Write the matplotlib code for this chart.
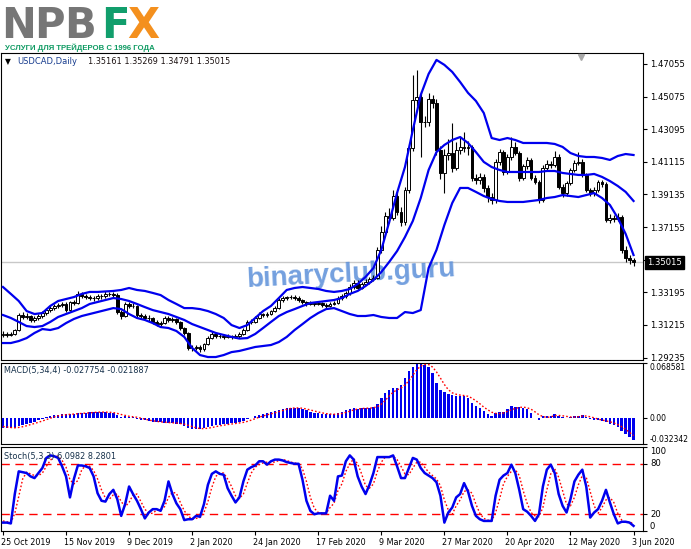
import matplotlib.pyplot as plt
import matplotlib.transforms as mtransforms
import numpy as np

plt.rcParams['font.family'] = ['DejaVu Sans']

# ---- data (USDCAD daily) ----
date_labels = ['25 Oct 2019', '15 Nov 2019', '9 Dec 2019', '2 Jan 2020', '24 Jan 2020',
               '17 Feb 2020', '9 Mar 2020', '27 Mar 2020', '20 Apr 2020', '12 May 2020',
               '3 Jun 2020']
date_bars = [0, 16, 32, 48, 64, 80, 96, 112, 128, 144, 160]

opens = [
    1.3060, 1.3067, 1.3061, 1.3067, 1.3091, 1.3182, 1.3170, 1.3176, 1.3152, 1.3164,
    1.3176, 1.3194, 1.3212, 1.3224, 1.3237, 1.3243, 1.3249, 1.3212, 1.3261, 1.3255,
    1.3310, 1.3297, 1.3291, 1.3285, 1.3285, 1.3297, 1.3297, 1.3310, 1.3310, 1.3303,
    1.3200, 1.3176, 1.3249, 1.3237, 1.3237, 1.3182, 1.3176, 1.3164, 1.3164, 1.3140,
    1.3127, 1.3133, 1.3164, 1.3152, 1.3158, 1.3140, 1.3103, 1.3073, 1.2982, 1.2982,
    1.2988, 1.2976, 1.3006, 1.3042, 1.3067, 1.3055, 1.3055, 1.3049, 1.3055, 1.3049,
    1.3055, 1.3067, 1.3091, 1.3140, 1.3140, 1.3164, 1.3188, 1.3182, 1.3188, 1.3206,
    1.3224, 1.3273, 1.3285, 1.3291, 1.3291, 1.3285, 1.3273, 1.3261, 1.3249, 1.3255,
    1.3249, 1.3255, 1.3243, 1.3237, 1.3249, 1.3255, 1.3285, 1.3297, 1.3316, 1.3352,
    1.3376, 1.3346, 1.3370, 1.3382, 1.3401, 1.3407, 1.3577, 1.3686, 1.3783, 1.3771,
    1.3904, 1.3807, 1.3747, 1.3941, 1.4196, 1.4487, 1.4505, 1.4353, 1.4353, 1.4493,
    1.4469, 1.4184, 1.4044, 1.4153, 1.4165, 1.4074, 1.4184, 1.4202, 1.4196, 1.4202,
    1.4014, 1.4002, 1.4020, 1.3953, 1.3898, 1.3880, 1.4111, 1.4171, 1.4050, 1.4141,
    1.4202, 1.4165, 1.4014, 1.4087, 1.4123, 1.4014, 1.3989, 1.3880, 1.4074, 1.4099,
    1.4093, 1.4141, 1.3959, 1.3922, 1.3983, 1.4062, 1.4105, 1.4111, 1.4032, 1.3941,
    1.3922, 1.3941, 1.3989, 1.3977, 1.3759, 1.3771, 1.3765, 1.3777, 1.3577, 1.3528,
    1.35161]

highs = [
    1.3082, 1.3080, 1.3078, 1.3100, 1.3195, 1.3200, 1.3192, 1.3185, 1.3178, 1.3188,
    1.3205, 1.3222, 1.3235, 1.3250, 1.3255, 1.3262, 1.3258, 1.3270, 1.3275, 1.3325,
    1.3322, 1.3312, 1.3305, 1.3300, 1.3310, 1.3312, 1.3325, 1.3322, 1.3320, 1.3315,
    1.3212, 1.3262, 1.3260, 1.3252, 1.3245, 1.3195, 1.3190, 1.3180, 1.3172, 1.3150,
    1.3145, 1.3175, 1.3178, 1.3170, 1.3165, 1.3148, 1.3112, 1.3080, 1.2998, 1.3000,
    1.3000, 1.3015, 1.3052, 1.3085, 1.3075, 1.3068, 1.3065, 1.3066, 1.3062, 1.3066,
    1.3078, 1.3102, 1.3152, 1.3155, 1.3175, 1.3198, 1.3196, 1.3198, 1.3215, 1.3235,
    1.3285, 1.3296, 1.3300, 1.3305, 1.3302, 1.3295, 1.3282, 1.3270, 1.3266, 1.3262,
    1.3266, 1.3262, 1.3252, 1.3260, 1.3266, 1.3298, 1.3310, 1.3330, 1.3368, 1.3395,
    1.3392, 1.3382, 1.3398, 1.3415, 1.3425, 1.3595, 1.3720, 1.3810, 1.3830, 1.3940,
    1.3930, 1.3840, 1.3960, 1.4220, 1.4639, 1.4667, 1.4540, 1.4390, 1.4530, 1.4520,
    1.4495, 1.4210, 1.4190, 1.4250, 1.4347, 1.4230, 1.4260, 1.4290, 1.4240, 1.4215,
    1.4040, 1.4045, 1.4035, 1.3970, 1.3920, 1.4130, 1.4190, 1.4185, 1.4160, 1.4265,
    1.4230, 1.4180, 1.4100, 1.4140, 1.4135, 1.4030, 1.4000, 1.4090, 1.4120, 1.4115,
    1.4180, 1.4160, 1.3975, 1.3995, 1.4075, 1.4125, 1.4170, 1.4130, 1.4045, 1.3955,
    1.3960, 1.4000, 1.4000, 1.3990, 1.3795, 1.3790, 1.3800, 1.3790, 1.3600, 1.3545,
    1.35269]

lows = [
    1.3048, 1.3050, 1.3052, 1.3060, 1.3085, 1.3158, 1.3155, 1.3140, 1.3140, 1.3150,
    1.3165, 1.3185, 1.3200, 1.3210, 1.3225, 1.3228, 1.3200, 1.3205, 1.3240, 1.3250,
    1.3285, 1.3280, 1.3272, 1.3270, 1.3275, 1.3282, 1.3288, 1.3295, 1.3290, 1.3190,
    1.3160, 1.3170, 1.3225, 1.3222, 1.3172, 1.3165, 1.3150, 1.3148, 1.3130, 1.3115,
    1.3118, 1.3125, 1.3140, 1.3142, 1.3128, 1.3092, 1.3060, 1.2970, 1.2965, 1.2968,
    1.2955, 1.2965, 1.2998, 1.3035, 1.3045, 1.3042, 1.3038, 1.3040, 1.3038, 1.3040,
    1.3045, 1.3058, 1.3085, 1.3125, 1.3132, 1.3155, 1.3170, 1.3172, 1.3180, 1.3198,
    1.3218, 1.3262, 1.3272, 1.3278, 1.3275, 1.3262, 1.3250, 1.3238, 1.3240, 1.3238,
    1.3240, 1.3232, 1.3226, 1.3228, 1.3240, 1.3248, 1.3275, 1.3288, 1.3305, 1.3340,
    1.3335, 1.3338, 1.3362, 1.3372, 1.3390, 1.3400, 1.3560, 1.3670, 1.3740, 1.3760,
    1.3790, 1.3720, 1.3730, 1.3925, 1.4180, 1.4450, 1.4141, 1.4320, 1.4330, 1.4440,
    1.4150, 1.4010, 1.3922, 1.4120, 1.4050, 1.4060, 1.4160, 1.4170, 1.4150, 1.3995,
    1.3975, 1.3980, 1.3930, 1.3870, 1.3855, 1.3860, 1.4090, 1.4030, 1.4035, 1.4125,
    1.4150, 1.3995, 1.4000, 1.4070, 1.4000, 1.3975, 1.3860, 1.3870, 1.4060, 1.4075,
    1.4080, 1.3945, 1.3900, 1.3905, 1.3970, 1.4050, 1.4090, 1.4020, 1.3930, 1.3905,
    1.3905, 1.3930, 1.3960, 1.3745, 1.3740, 1.3745, 1.3750, 1.3560, 1.3505, 1.3490,
    1.34791]

closes = [
    1.3067, 1.3061, 1.3067, 1.3091, 1.3182, 1.3170, 1.3176, 1.3152, 1.3164, 1.3176,
    1.3194, 1.3212, 1.3224, 1.3237, 1.3243, 1.3249, 1.3212, 1.3261, 1.3255, 1.3310,
    1.3297, 1.3291, 1.3285, 1.3285, 1.3297, 1.3297, 1.3310, 1.3310, 1.3303, 1.3200,
    1.3176, 1.3249, 1.3237, 1.3237, 1.3182, 1.3176, 1.3164, 1.3164, 1.3140, 1.3127,
    1.3133, 1.3164, 1.3152, 1.3158, 1.3140, 1.3103, 1.3073, 1.2982, 1.2982, 1.2988,
    1.2976, 1.3006, 1.3042, 1.3067, 1.3055, 1.3055, 1.3049, 1.3055, 1.3049, 1.3055,
    1.3067, 1.3091, 1.3140, 1.3140, 1.3164, 1.3188, 1.3182, 1.3188, 1.3206, 1.3224,
    1.3273, 1.3285, 1.3291, 1.3291, 1.3285, 1.3273, 1.3261, 1.3249, 1.3255, 1.3249,
    1.3255, 1.3243, 1.3237, 1.3249, 1.3255, 1.3285, 1.3297, 1.3316, 1.3352, 1.3376,
    1.3346, 1.3370, 1.3382, 1.3401, 1.3407, 1.3577, 1.3686, 1.3783, 1.3771, 1.3904,
    1.3807, 1.3747, 1.3941, 1.4196, 1.4487, 1.4505, 1.4353, 1.4353, 1.4493, 1.4469,
    1.4184, 1.4044, 1.4153, 1.4165, 1.4074, 1.4184, 1.4202, 1.4196, 1.4202, 1.4014,
    1.4002, 1.4020, 1.3953, 1.3898, 1.3880, 1.4111, 1.4171, 1.4050, 1.4141, 1.4202,
    1.4165, 1.4014, 1.4087, 1.4123, 1.4014, 1.3989, 1.3880, 1.4074, 1.4099, 1.4093,
    1.4141, 1.3959, 1.3922, 1.3983, 1.4062, 1.4105, 1.4111, 1.4032, 1.3941, 1.3922,
    1.3941, 1.3989, 1.3977, 1.3759, 1.3771, 1.3765, 1.3777, 1.3577, 1.3528, 1.3516,
    1.35015]

# Bollinger bands, read every 2nd bar
band_bars = list(range(0, 161, 2))
bb_upper = [
    1.3352, 1.3310, 1.3267, 1.3206, 1.3188, 1.3194, 1.3237, 1.3267, 1.3279, 1.3291,
    1.3310, 1.3322, 1.3322, 1.3325, 1.3328, 1.3334, 1.3346, 1.3334, 1.3328, 1.3316,
    1.3303, 1.3273, 1.3249, 1.3224, 1.3224, 1.3218, 1.3206, 1.3188, 1.3164, 1.3121,
    1.3103, 1.3121, 1.3164, 1.3206, 1.3237, 1.3285, 1.3334, 1.3346, 1.3352, 1.3346,
    1.3340, 1.3328, 1.3322, 1.3328, 1.3340, 1.3370, 1.3413, 1.3467, 1.3577, 1.3746,
    1.3923, 1.4080, 1.4305, 1.4517, 1.4645, 1.4730, 1.4700, 1.4657, 1.4596, 1.4530,
    1.4481, 1.4408, 1.4256, 1.4244, 1.4256, 1.4244, 1.4226, 1.4226, 1.4226, 1.4226,
    1.4220, 1.4202, 1.4165, 1.4147, 1.4141, 1.4141, 1.4135, 1.4123, 1.4147, 1.4159,
    1.4153]
bb_middle = [
    1.3182, 1.3164, 1.3140, 1.3115, 1.3109, 1.3115, 1.3140, 1.3170, 1.3188, 1.3206,
    1.3224, 1.3249, 1.3261, 1.3273, 1.3285, 1.3279, 1.3267, 1.3249, 1.3230, 1.3212,
    1.3200, 1.3188, 1.3170, 1.3152, 1.3127, 1.3109, 1.3091, 1.3073, 1.3061, 1.3049,
    1.3039, 1.3042, 1.3067, 1.3103, 1.3140, 1.3176, 1.3200, 1.3218, 1.3237, 1.3255,
    1.3261, 1.3267, 1.3273, 1.3285, 1.3310, 1.3328, 1.3358, 1.3394, 1.3443, 1.3504,
    1.3570, 1.3655, 1.3753, 1.3892, 1.4062, 1.4171, 1.4214, 1.4244, 1.4262, 1.4226,
    1.4171, 1.4111, 1.4080, 1.4062, 1.4050, 1.4050, 1.4050, 1.4050, 1.4050, 1.4056,
    1.4056, 1.4044, 1.4038, 1.4032, 1.4032, 1.4038, 1.4020, 1.3995, 1.3965, 1.3929,
    1.3874]
bb_lower = [
    1.3012, 1.3012, 1.3024, 1.3042, 1.3073, 1.3097, 1.3091, 1.3103, 1.3133, 1.3158,
    1.3176, 1.3188, 1.3200, 1.3212, 1.3224, 1.3218, 1.3188, 1.3164, 1.3152, 1.3133,
    1.3109, 1.3103, 1.3085, 1.3049, 1.2982, 1.2939, 1.2927, 1.2927, 1.2939, 1.2957,
    1.2964, 1.2976, 1.2988, 1.2994, 1.3000, 1.3018, 1.3049, 1.3091, 1.3127, 1.3164,
    1.3194, 1.3218, 1.3224, 1.3206, 1.3188, 1.3176, 1.3176, 1.3182, 1.3170, 1.3164,
    1.3164, 1.3200, 1.3194, 1.3212, 1.3467, 1.3577, 1.3728, 1.3862, 1.3953, 1.3953,
    1.3929, 1.3904, 1.3886, 1.3874, 1.3868, 1.3868, 1.3868, 1.3874, 1.3880, 1.3892,
    1.3898, 1.3910, 1.3904, 1.3898, 1.3910, 1.3922, 1.3892, 1.3850, 1.3771, 1.3674,
    1.3546]

macd_hist = [
    -0.0120, -0.0125, -0.0126, -0.0118, -0.0100, -0.0090, -0.0075, -0.0060, -0.0045, -0.0030,
    -0.0012, 0.0010, 0.0025, 0.0033, 0.0040, 0.0045, 0.0048, 0.0052, 0.0055, 0.0062,
    0.0066, 0.0068, 0.0072, 0.0077, 0.0076, 0.0074, 0.0070, 0.0066, 0.0060, 0.0035,
    0.0015, 0.0020, 0.0018, 0.0010, -0.0010, -0.0022, -0.0030, -0.0038, -0.0045, -0.0052,
    -0.0055, -0.0058, -0.0060, -0.0062, -0.0068, -0.0080, -0.0095, -0.0120, -0.0133, -0.0136,
    -0.0135, -0.0125, -0.0112, -0.0100, -0.0092, -0.0085, -0.0078, -0.0070, -0.0065, -0.0058,
    -0.0052, -0.0040, -0.0018, 0.0005, 0.0020, 0.0035, 0.0045, 0.0058, 0.0070, 0.0085,
    0.0105, 0.0118, 0.0126, 0.0130, 0.0128, 0.0120, 0.0110, 0.0095, 0.0080, 0.0068,
    0.0058, 0.0050, 0.0045, 0.0045, 0.0048, 0.0060, 0.0075, 0.0095, 0.0113, 0.0120,
    0.0118, 0.0122, 0.0126, 0.0130, 0.0135, 0.0180, 0.0250, 0.0316, 0.0350, 0.0370,
    0.0370, 0.0406, 0.0500, 0.0580, 0.0640, 0.0686, 0.0680, 0.0660, 0.0640, 0.0560,
    0.0440, 0.0350, 0.0320, 0.0300, 0.0285, 0.0280, 0.0280, 0.0275, 0.0250, 0.0185,
    0.0150, 0.0125, 0.0085, 0.0050, 0.0030, 0.0065, 0.0078, 0.0080, 0.0110, 0.0144,
    0.0140, 0.0135, 0.0125, 0.0110, 0.0068, 0.0005, -0.0020, 0.0020, 0.0028, 0.0030,
    0.0045, 0.0025, 0.0010, 0.0002, 0.0015, 0.0022, 0.0030, 0.0036, 0.0010, -0.0012,
    -0.0022, -0.0028, -0.0036, -0.0052, -0.0068, -0.0090, -0.0113, -0.0160, -0.0200, -0.0240,
    -0.027754]

macd_signal = [
    -0.0105, -0.0112, -0.0118, -0.0122, -0.0117, -0.0108, -0.0096, -0.0081, -0.0068, -0.0053,
    -0.0037, -0.0019, -0.0002, 0.0014, 0.0027, 0.0036, 0.0042, 0.0046, 0.0050, 0.0054,
    0.0059, 0.0063, 0.0067, 0.0071, 0.0073, 0.0075, 0.0074, 0.0072, 0.0068, 0.0058,
    0.0044, 0.0033, 0.0022, 0.0016, 0.0010, -0.0001, -0.0013, -0.0025, -0.0034, -0.0041,
    -0.0048, -0.0053, -0.0056, -0.0059, -0.0062, -0.0068, -0.0076, -0.0091, -0.0107, -0.0121,
    -0.0131, -0.0132, -0.0127, -0.0118, -0.0107, -0.0097, -0.0089, -0.0081, -0.0075, -0.0068,
    -0.0061, -0.0054, -0.0042, -0.0026, -0.0008, 0.0011, 0.0026, 0.0040, 0.0052, 0.0065,
    0.0080, 0.0095, 0.0109, 0.0120, 0.0126, 0.0126, 0.0122, 0.0113, 0.0101, 0.0088,
    0.0075, 0.0064, 0.0055, 0.0050, 0.0047, 0.0050, 0.0057, 0.0070, 0.0086, 0.0101,
    0.0112, 0.0118, 0.0122, 0.0124, 0.0128, 0.0143, 0.0173, 0.0220, 0.0274, 0.0322,
    0.0352, 0.0374, 0.0412, 0.0464, 0.0532, 0.0602, 0.0647, 0.0667, 0.0667, 0.0635,
    0.0575, 0.0498, 0.0418, 0.0353, 0.0314, 0.0296, 0.0286, 0.0280, 0.0271, 0.0248,
    0.0215, 0.0178, 0.0136, 0.0103, 0.0073, 0.0058, 0.0056, 0.0063, 0.0083, 0.0103,
    0.0119, 0.0132, 0.0136, 0.0128, 0.0110, 0.0077, 0.0041, 0.0018, 0.0008, 0.0015,
    0.0031, 0.0032, 0.0028, 0.0021, 0.0013, 0.0012, 0.0017, 0.0026, 0.0025, 0.0016,
    0.0003, -0.0013, -0.0025, -0.0035, -0.0046, -0.0062, -0.0081, -0.0108, -0.0141, -0.0178,
    -0.021887]

stoch_main = [
    10, 10, 9, 44, 71, 70, 69, 65, 63, 69,
    75, 87, 90, 89, 87, 77, 65, 40, 62, 78,
    78, 77, 75, 65, 45, 36, 35, 44, 49, 38,
    18, 32, 53, 44, 36, 26, 15, 22, 26, 26,
    24, 36, 59, 44, 33, 26, 13, 14, 14, 18,
    17, 32, 55, 68, 71, 68, 67, 51, 42, 34,
    40, 59, 73, 76, 78, 83, 83, 79, 83, 85,
    85, 84, 82, 81, 80, 80, 61, 36, 24, 20,
    21, 21, 21, 42, 36, 65, 66, 83, 90, 85,
    65, 53, 44, 55, 69, 88, 88, 88, 88, 90,
    77, 63, 63, 75, 87, 85, 75, 69, 66, 63,
    58, 42, 10, 22, 28, 40, 44, 57, 47, 30,
    18, 14, 12, 12, 12, 42, 61, 66, 69, 79,
    69, 49, 26, 23, 18, 12, 20, 53, 73, 79,
    69, 44, 30, 22, 38, 59, 67, 73, 53, 16,
    22, 26, 36, 49, 34, 20, 9, 11, 11, 10,
    6.0982]

stoch_signal = [
    12, 11, 10, 21, 41, 62, 70, 68, 66, 66,
    69, 77, 84, 89, 89, 84, 76, 61, 56, 60,
    73, 78, 77, 72, 62, 49, 39, 38, 43, 44,
    35, 29, 34, 43, 44, 35, 26, 21, 21, 25,
    25, 29, 40, 46, 45, 34, 24, 18, 14, 15,
    16, 22, 35, 52, 65, 69, 69, 62, 53, 42,
    39, 44, 57, 69, 76, 79, 81, 82, 82, 82,
    84, 85, 84, 82, 81, 80, 74, 59, 40, 27,
    22, 21, 21, 28, 33, 48, 56, 71, 80, 86,
    80, 68, 54, 51, 56, 71, 82, 88, 88, 89,
    85, 77, 68, 67, 75, 82, 82, 76, 70, 66,
    62, 54, 37, 25, 20, 30, 37, 47, 49, 45,
    32, 21, 15, 13, 12, 22, 38, 56, 65, 71,
    73, 66, 48, 33, 22, 18, 17, 28, 49, 68,
    74, 64, 48, 32, 30, 40, 55, 66, 64, 47,
    30, 21, 28, 37, 40, 34, 21, 13, 10, 11,
    8.2801]

price_ticks = [1.47055, 1.45075, 1.43095, 1.41115, 1.39135, 1.37155,
               1.35175, 1.33195, 1.31215, 1.29235]
last_price = 1.35015

# ---- layout (pixel based, like the terminal window) ----
W, H = 691, 549
fig = plt.figure(figsize=(W / 100, H / 100), dpi=100)


def box(x0, y0, x1, y1):
    return [x0 / W, 1 - y1 / H, (x1 - x0) / W, (y1 - y0) / H]


def fpos(x, y):
    return x / W, 1 - y / H


ax = fig.add_axes(box(1, 53, 643, 360))
ax_macd = fig.add_axes(box(1, 363, 643, 444))
ax_st = fig.add_axes(box(1, 447, 643, 531))

xmin, xmax = -0.5, 162.4
for a in (ax, ax_macd, ax_st):
    a.set_xlim(xmin, xmax)
    for s in a.spines.values():
        s.set_linewidth(0.8)
        s.set_color('black')
    a.yaxis.tick_right()
    a.tick_params(axis='y', direction='out', length=3, width=0.8,
                  labelsize=6.1, pad=2, colors='black')
ax.set_xticks([])
ax_macd.set_xticks([])

# ---- main chart: candles + bollinger ----
x = np.arange(len(closes))
o = np.array(opens)
h = np.array(highs)
l = np.array(lows)
c = np.array(closes)
up = c >= o

ax.axhline(last_price, color='#c8c8c8', lw=1.0, zorder=1)
ax.vlines(x, l, h, color='black', lw=0.8, zorder=3)
ax.bar(x[up], (c - o)[up], bottom=o[up], width=0.72, facecolor='white',
       edgecolor='black', lw=0.7, zorder=4)
ax.bar(x[~up], (o - c)[~up], bottom=c[~up], width=0.72, facecolor='black',
       edgecolor='black', lw=0.7, zorder=4)

for band in (bb_upper, bb_middle, bb_lower):
    ax.plot(band_bars, band, color='#0000ee', lw=1.6, zorder=5)

ax.set_ylim(1.2909, 1.4772)
ax.set_yticks(price_ticks)
# the 1.35175 label sits under the current-price box
ax.set_yticklabels(['' if t == 1.35175 else f'{t:.5f}' for t in price_ticks])

ax.annotate(f'{last_price:.5f}', xy=(1.0, last_price),
            xycoords=('axes fraction', 'data'), xytext=(3, 0),
            textcoords='offset points', va='center', ha='left',
            fontsize=6.1, color='white', annotation_clip=False, zorder=20,
            bbox=dict(boxstyle='square,pad=0.2', fc='black', ec='black'))

# watermark
ax.text(0.545, 0.28, 'binaryclub.guru', transform=ax.transAxes,
        ha='center', va='center', rotation=3, fontsize=20, fontweight='bold',
        family=['Liberation Sans', 'DejaVu Sans'], color='#5b8fd9', alpha=0.85,
        zorder=2)

# shift marker
ax.plot([0.903], [0.986], marker='v', color='#a8a8a8', ms=5,
        transform=ax.transAxes, clip_on=False, zorder=6)

# ---- MACD ----
ax_macd.bar(x, macd_hist, width=0.62, color='#0000ee', zorder=2)
ax_macd.plot(x, macd_signal, color='red', lw=1.0, ls=(0, (1.2, 1.5)), zorder=3)
ax_macd.set_ylim(-0.032342, 0.068581)
ax_macd.set_yticks([0.068581, 0.0, -0.032342])
ax_macd.set_yticklabels(['0.068581', '0.00', '-0.032342'])
for lbl, va in zip(ax_macd.get_yticklabels(), ['top', 'center', 'bottom']):
    lbl.set_va(va)
    lbl.set_fontsize(5.5)

# ---- Stochastic ----
ax_st.axhline(80, color='red', lw=1.0, dashes=(6, 4), zorder=1)
ax_st.axhline(20, color='red', lw=1.0, dashes=(6, 4), zorder=1)
ax_st.plot(x, stoch_signal, color='red', lw=1.0, ls=(0, (1.2, 1.5)), zorder=2)
ax_st.plot(x, stoch_main, color='#0000ee', lw=1.8, zorder=3)
ax_st.set_ylim(0, 100)
ax_st.set_yticks([100, 80, 20, 0])
ax_st.set_yticklabels(['100', '80', '20', '0'])
for lbl, va in zip(ax_st.get_yticklabels(), ['top', 'center', 'center', 'bottom']):
    lbl.set_va(va)

ax_st.set_xticks(date_bars)
ax_st.set_xticklabels(date_labels, ha='left')
ax_st.tick_params(axis='x', direction='out', length=3, width=0.8,
                  labelsize=5.8, pad=2)
shift = mtransforms.ScaledTranslation(-2 / 100, 0, fig.dpi_scale_trans)
for lbl in ax_st.get_xticklabels():
    lbl.set_transform(lbl.get_transform() + shift)

# ---- panel titles ----
fig.text(*fpos(5, 62), '▼', fontsize=5.5, va='center', color='black')
fig.text(*fpos(17, 62), 'USDCAD,Daily', fontsize=6.0, va='center', color='#173c8e')
fig.text(*fpos(88, 62), '1.35161 1.35269 1.34791 1.35015', fontsize=5.9,
         va='center', color='#1a1010')
fig.text(*fpos(4, 371), 'MACD(5,34,4) -0.027754 -0.021887', fontsize=5.9,
         va='center', color='#15304a')
fig.text(*fpos(4, 456), 'Stoch(5,3,3) 6.0982 8.2801', fontsize=5.9,
         va='center', color='#15304a')

# ---- logo ----
logo = [('N', 19, '#767676'), ('P', 49, '#767676'), ('B', 80, '#767676'),
        ('F', 115, '#119e6c'), ('X', 143, '#f4901e')]
for ch, cx, col in logo:
    fig.text(*fpos(cx, 38), ch, fontsize=30, fontweight='bold', ha='center',
             va='baseline', color=col)
fig.text(*fpos(5, 50), 'УСЛУГИ ДЛЯ ТРЕЙДЕРОВ С 1996 ГОДА', fontsize=5.6,
         fontweight='bold', family=['Liberation Sans', 'DejaVu Sans'],
         color='#0e9a62', va='baseline')

fig.savefig('out.png', dpi=100)
